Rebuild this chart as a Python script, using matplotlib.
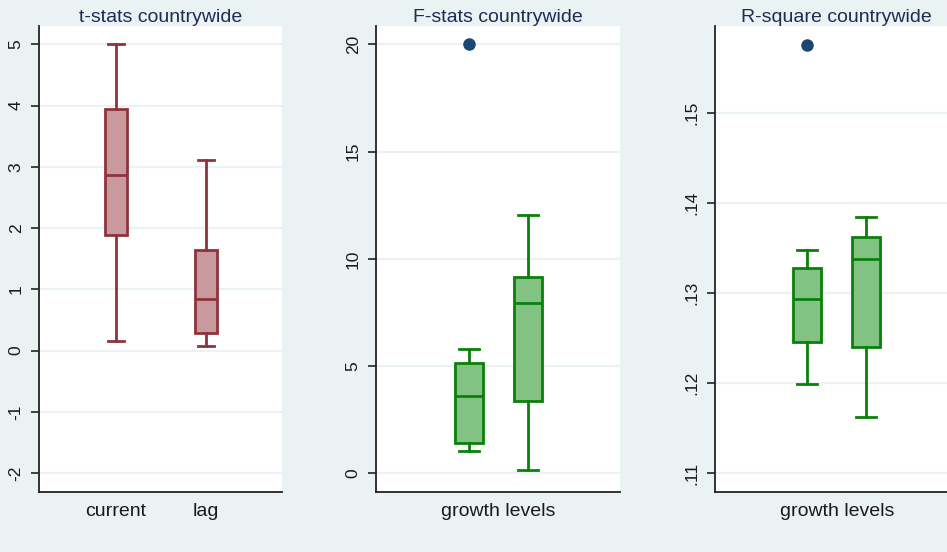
import matplotlib
matplotlib.use("Agg")
import matplotlib.pyplot as plt

plt.rcParams['font.family'] = ['Liberation Sans', 'DejaVu Sans']

# ---- data: box summaries (whislo, q1, med, q3, whishi, fliers) ----
t_labels = ["current", "lag"]
t_whislo = [0.15, 0.07]
t_q1 = [1.88, 0.28]
t_med = [2.86, 0.84]
t_q3 = [3.95, 1.64]
t_whishi = [5.00, 3.11]
t_fliers = [[], []]

f_whislo = [1.04, 0.15]
f_q1 = [1.43, 3.38]
f_med = [3.61, 7.94]
f_q3 = [5.14, 9.18]
f_whishi = [5.80, 12.04]
f_fliers = [[20.0], []]

r_whislo = [0.1199, 0.1163]
r_q1 = [0.1246, 0.1240]
r_med = [0.1294, 0.1338]
r_q3 = [0.1328, 0.1362]
r_whishi = [0.1348, 0.1385]
r_fliers = [[0.1576], []]

t_ticks = [-2, -1, 0, 1, 2, 3, 4, 5]
t_ticklabels = ["-2", "-1", "0", "1", "2", "3", "4", "5"]
f_ticks = [0, 5, 10, 15, 20]
f_ticklabels = ["0", "5", "10", "15", "20"]
r_ticks = [0.11, 0.12, 0.13, 0.14, 0.15]
r_ticklabels = [".11", ".12", ".13", ".14", ".15"]

titles = ["t-stats countrywide", "F-stats countrywide", "R-square countrywide"]
group_label = "growth levels"

BG = "#EAF2F3"
RED_EDGE, RED_FILL = "#8E333B", "#C89A9E"
GRN_EDGE, GRN_FILL = "#0A800A", "#82C282"
NAVY = "#1A476F"
TITLE_C = "#1E2B52"


def stats(whislo, q1, med, q3, whishi, fliers):
    return [dict(whislo=a, q1=b, med=c, q3=d, whishi=e, fliers=f)
            for a, b, c, d, e, f in zip(whislo, q1, med, q3, whishi, fliers)]


fig = plt.figure(figsize=(9.47, 5.52), dpi=100, facecolor=BG)

bottom, height = 0.1096, 0.9529 - 0.1096
axes = [
    fig.add_axes([0.0412, bottom, 0.2566, height]),
    fig.add_axes([0.3970, bottom, 0.2577, height]),
    fig.add_axes([0.7547, bottom, 0.2577, height]),
]


def draw(ax, st, positions, width, edge, fill, ylim, ticks, ticklabels, title):
    ax.set_facecolor("white")
    ax.set_xlim(0, 1)
    ax.set_ylim(*ylim)
    for y in ticks:
        ax.axhline(y, color=BG, lw=1.6, zorder=0)
    lw = 2.0
    ax.bxp(st, positions=positions, widths=width, patch_artist=True,
           capwidths=width * 0.72, manage_ticks=False,
           boxprops=dict(facecolor=fill, edgecolor=edge, linewidth=lw),
           whiskerprops=dict(color=edge, linewidth=lw),
           capprops=dict(color=edge, linewidth=lw),
           medianprops=dict(color=edge, linewidth=lw),
           flierprops=dict(marker="o", markerfacecolor=NAVY,
                           markeredgecolor=NAVY, markersize=8))
    ax.set_yticks(ticks)
    ax.set_yticklabels(ticklabels, rotation=90, va="center", fontsize=12.5,
                       color="#1a1a1a")
    ax.tick_params(axis="y", length=6, width=1.2, color="#222222", pad=5)
    ax.tick_params(axis="x", length=0, pad=8, labelsize=14, labelcolor="#1a1a1a")
    for s in ("top", "right"):
        ax.spines[s].set_visible(False)
    for s in ("left", "bottom"):
        ax.spines[s].set_color("#222222")
        ax.spines[s].set_linewidth(1.3)
    ax.set_title(title, fontsize=14, color=TITLE_C, pad=3)


draw(axes[0], stats(t_whislo, t_q1, t_med, t_q3, t_whishi, t_fliers),
     [0.317, 0.687], 0.088, RED_EDGE, RED_FILL, (-2.30, 5.30),
     t_ticks, t_ticklabels, titles[0])
axes[0].set_xticks([0.317, 0.687])
axes[0].set_xticklabels(t_labels)

draw(axes[1], stats(f_whislo, f_q1, f_med, f_q3, f_whishi, f_fliers),
     [0.381, 0.623], 0.115, GRN_EDGE, GRN_FILL, (-0.84, 20.86),
     f_ticks, f_ticklabels, titles[1])
axes[1].set_xticks([0.5])
axes[1].set_xticklabels([group_label])

draw(axes[2], stats(r_whislo, r_q1, r_med, r_q3, r_whishi, r_fliers),
     [0.378, 0.619], 0.113, GRN_EDGE, GRN_FILL, (0.10798, 0.15966),
     r_ticks, r_ticklabels, titles[2])
axes[2].set_xticks([0.5])
axes[2].set_xticklabels([group_label])

fig.savefig("out.png", dpi=100, facecolor=BG)
